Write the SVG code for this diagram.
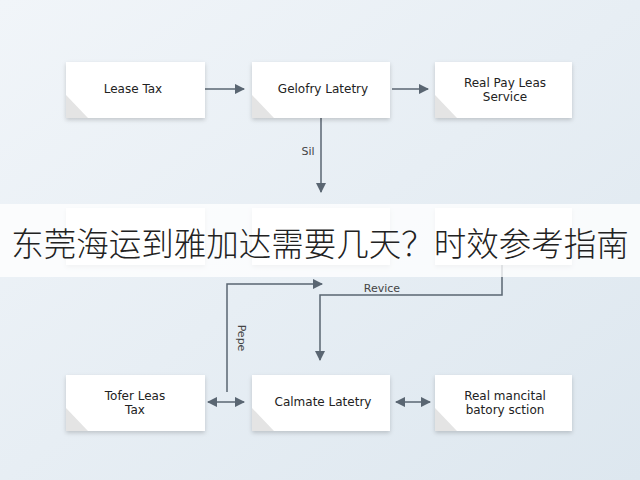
<svg xmlns="http://www.w3.org/2000/svg" width="640" height="480" viewBox="0 0 640 480">
<defs>
<linearGradient id="bg" x1="0" y1="0" x2="1" y2="1"><stop offset="0" stop-color="#f1f5f9"/><stop offset="1" stop-color="#dde7ef"/></linearGradient>
<marker id="ah" viewBox="0 0 10 10" refX="9" refY="5" markerWidth="7" markerHeight="7" orient="auto-start-reverse"><path d="M0,0L10,5L0,10z" fill="#5a6672"/></marker>
<filter id="sh" x="-10%" y="-10%" width="120%" height="130%"><feDropShadow dx="0" dy="2" stdDeviation="2" flood-color="#000" flood-opacity="0.18"/></filter>
</defs>
<style>
.box{fill:#fff;filter:url(#sh)}
.cor{fill:#e4e4e4}
.t{font-family:"DejaVu Sans",sans-serif;font-size:12px;fill:#222;text-anchor:middle}
.l{font-family:"DejaVu Sans",sans-serif;font-size:11px;fill:#444;text-anchor:middle}
.c{fill:none;stroke:#5a6672;stroke-width:1.5;marker-end:url(#ah)}
</style>
<rect width="640" height="480" fill="url(#bg)"/>
<g id="connectors">
<path class="c" d="M205,89H244"/>
<path class="c" d="M392,89H428"/>
<path class="c" d="M321,118V192"/>
<path class="c" d="M502,265V295H320V360"/>
<path class="c" d="M227,392V284H322"/>
<path class="c" d="M208,402H244" marker-start="url(#ah)"/>
<path class="c" d="M396,402H430" marker-start="url(#ah)"/>
<text class="l" x="308" y="155">Sil</text>
<text class="l" x="382" y="292">Revice</text>
<text class="l" transform="translate(238,338) rotate(90)">Pepe</text>
</g>
<g id="n1"><rect class="box" x="66" y="62" width="139" height="56"/><path class="cor" d="M66,95L88,118H66z"/><text class="t" x="133" y="93">Lease Tax</text></g>
<g id="n2"><rect class="box" x="252" y="62" width="138" height="56"/><path class="cor" d="M252,95L274,118H252z"/><text class="t" x="323" y="93">Gelofry Latetry</text></g>
<g id="n3"><rect class="box" x="435" y="62" width="137" height="56"/><path class="cor" d="M435,95L457,118H435z"/><text class="t" x="505" y="87">Real Pay Leas</text><text class="t" x="505" y="101">Service</text></g>
<g id="n4"><rect class="box" x="66" y="208" width="139" height="57"/></g>
<g id="n5"><rect class="box" x="252" y="208" width="138" height="57"/></g>
<g id="n6"><rect class="box" x="435" y="208" width="137" height="57"/></g>
<g id="n7"><rect class="box" x="66" y="375" width="139" height="56"/><path class="cor" d="M66,408L88,431H66z"/><text class="t" x="135" y="400">Tofer Leas</text><text class="t" x="135" y="414">Tax</text></g>
<g id="n8"><rect class="box" x="252" y="375" width="138" height="56"/><path class="cor" d="M252,408L274,431H252z"/><text class="t" x="323" y="406">Calmate Latetry</text></g>
<g id="n9"><rect class="box" x="435" y="375" width="137" height="56"/><path class="cor" d="M435,408L457,431H435z"/><text class="t" x="505" y="400">Real mancital</text><text class="t" x="505" y="414">batory sction</text></g>
<rect x="0" y="204" width="640" height="73" fill="#fff" opacity="0.78"/>
<text x="320" y="256" font-family="Noto Sans CJK SC, sans-serif" font-size="32.5" font-weight="300" fill="#222" text-anchor="middle">东莞海运到雅加达需要几天？时效参考指南</text>
</svg>
